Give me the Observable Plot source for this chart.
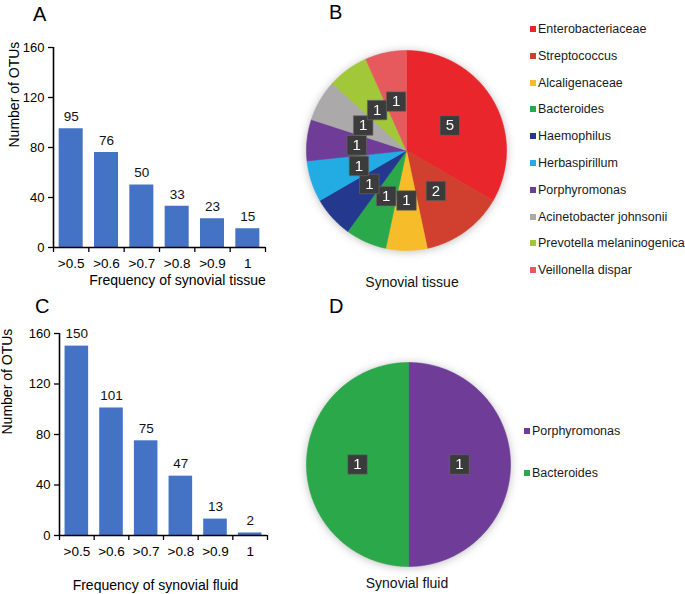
<!DOCTYPE html>
<html><head><meta charset="utf-8">
<script src="https://cdn.jsdelivr.net/npm/d3@7"></script>
<script src="https://cdn.jsdelivr.net/npm/@observablehq/plot@0.6"></script>
<style>
body{margin:0;background:#fff;font-family:"Liberation Sans",Arial,sans-serif;}
#root{position:relative;width:685px;height:594px;overflow:hidden;background:#fff}
.wrap{position:absolute;overflow:visible}
.letter{position:absolute;font-size:20px;line-height:20px;color:#000}
.cap{position:absolute;font-size:14px;line-height:14px;color:#111;transform:translate(-50%,-50%);white-space:nowrap}
.leg{position:absolute;font-size:12.5px;line-height:14px;color:#1a1a1a;white-space:nowrap;transform:translateY(-50%)}
.leg .sw{display:inline-block;width:6px;height:6px;margin-right:2px;vertical-align:1px}
g[aria-label="y-axis tick label"]{font-size:13px !important}
g[aria-label="x-axis tick label"]{font-size:13.5px !important}
</style></head><body><div id="root"></div>
<script>
// ---- data ----
const freqCats = [">0.5", ">0.6", ">0.7", ">0.8", ">0.9", "1"];
const tissueCounts = [95, 76, 50, 33, 23, 15];
const fluidCounts = [150, 101, 75, 47, 13, 2];
const yTicks = [0, 40, 80, 120, 160];
const tissueTaxa = ["Enterobacteriaceae", "Streptococcus", "Alcaligenaceae", "Bacteroides", "Haemophilus", "Herbaspirillum", "Porphyromonas", "Acinetobacter johnsonii", "Prevotella melaninogenica", "Veillonella dispar"];
const tissueOTUs = [5, 2, 1, 1, 1, 1, 1, 1, 1, 1];
const tissueColors = ["#E8262B", "#D1402E", "#F7BC2A", "#2AA84A", "#24398E", "#22ACE3", "#6F3C97", "#ABA9AA", "#A2C83A", "#E65A5E"];
const fluidTaxa = ["Porphyromonas", "Bacteroides"];
const fluidOTUs = [1, 1];
const fluidColors = ["#6F3C97", "#2AA84A"];

const FONT = '"Liberation Sans", Arial, sans-serif';
const root = document.getElementById("root");

function place(el, left, top, w, h) {
  const d = document.createElement("div");
  d.className = "wrap";
  Object.assign(d.style, {left: left + "px", top: top + "px", width: w + "px", height: h + "px"});
  d.appendChild(el);
  root.appendChild(d);
  return d;
}

function barChart(o) {
  const n = freqCats.length;
  const data = freqCats.map((c, i) => ({cat: c, i, v: o.counts[i]}));
  return Plot.plot({
    width: o.width, height: o.height,
    marginLeft: o.ml, marginTop: o.mt, marginBottom: o.mb, marginRight: o.mr,
    style: {fontFamily: FONT, fontSize: "13px", color: "#000", background: "transparent", overflow: "visible"},
    x: {type: "linear", domain: [0, n]},
    y: {domain: [0, 160]},
    marks: [
      Plot.rectY(data, {x1: d => d.i + 0.16, x2: d => d.i + 0.84, y: "v", fill: "#4472C4"}),
      Plot.text(data, {x: d => d.i + 0.5, y: "v", text: d => String(d.v), dy: -12, fontSize: 13.5, fill: "#111"}),
      Plot.axisY({ticks: yTicks, tickSize: 5, tickPadding: 4, fontSize: 13, label: null, stroke: "#000", strokeWidth: 1.3}),
      Plot.axisX({ticks: d3.range(0, n + 1), tickSize: 5, tickFormat: () => "", label: null, strokeWidth: 1.3}),
      Plot.axisX({ticks: d3.range(n).map(i => i + 0.5), tickSize: 0, tickPadding: 11, tickFormat: t => freqCats[Math.floor(t)], label: null, fontSize: 13.5}),
      Plot.ruleY([0], {stroke: "#000", strokeWidth: 1.6}),
      Plot.ruleX([0], {stroke: "#000", strokeWidth: 1.6}),
      Plot.text([o.yLabel], {frameAnchor: "left", text: d => d, rotate: -90, dx: -o.yOff, fontSize: 14}),
      Plot.text([o.xTitle], {frameAnchor: "bottom", text: d => d, dx: o.xDx, dy: o.xDy, fontSize: 14})
    ]
  });
}

function pieChart(o) {
  const arcs = d3.pie().sort(null).value(d => d)(o.values);
  const pts = [];
  arcs.forEach((a, k) => {
    const steps = Math.max(4, Math.ceil((a.endAngle - a.startAngle) / 0.01));
    pts.push({name: o.taxa[k], px: 0, py: 0});
    for (let s = 0; s <= steps; s++) {
      const t = a.startAngle + (a.endAngle - a.startAngle) * s / steps;
      pts.push({name: o.taxa[k], px: Math.sin(t), py: Math.cos(t)});
    }
    pts.push({name: o.taxa[k], px: 0, py: 0});
  });
  const labels = arcs.map((a, k) => {
    const m = (a.startAngle + a.endAngle) / 2;
    return {v: o.values[k], px: 0.5 * Math.sin(m), py: 0.5 * Math.cos(m)};
  });
  return Plot.plot({
    width: o.width, height: o.height, margin: 0,
    style: {fontFamily: FONT, background: "transparent", overflow: "visible"},
    x: {domain: [-1, 1], range: [o.cx - o.r, o.cx + o.r], axis: null},
    y: {domain: [-1, 1], range: [o.cy + o.r, o.cy - o.r], axis: null},
    color: {domain: o.taxa, range: o.colors},
    marks: [
      Plot.line(pts, {x: "px", y: "py", z: "name", fill: "name", stroke: "name", strokeWidth: 0.6, curve: "linear"}),
      Plot.dot(labels, {x: "px", y: "py", symbol: "square", r: 11, fill: "#3b3b3b", stroke: "#6a6a6a", strokeWidth: 0.6}),
      Plot.text(labels, {x: "px", y: "py", text: d => String(d.v), fill: "white", fontSize: 15})
    ]
  });
}

// Panel A
place(barChart({counts: tissueCounts, width: 280, height: 288, ml: 53, mt: 47, mb: 41, mr: 15,
  yLabel: "Number of OTUs", yOff: 39, xTitle: "Frequency of synovial tissue", xDx: 18, xDy: 37}), 0, 0, 280, 288);
// Panel C
place(barChart({counts: fluidCounts, width: 280, height: 294, ml: 59, mt: 33, mb: 59, mr: 13,
  yLabel: "Number of OTUs", yOff: 52, xTitle: "Frequency of synovial fluid", xDx: -8, xDy: 54}), 0, 300, 280, 294);

// Panel B
const pb = place(pieChart({taxa: tissueTaxa, values: tissueOTUs, colors: tissueColors, width: 250, height: 290, cx: 126, cy: 150, r: 100}), 280, 0, 250, 290);
pb.style.filter = "drop-shadow(0px 1px 4px rgba(0,0,0,0.25))";
// Panel D
const pd = place(pieChart({taxa: fluidTaxa, values: fluidOTUs, colors: fluidColors, width: 250, height: 294, cx: 128, cy: 164, r: 102}), 280, 300, 250, 294);
pd.style.filter = "drop-shadow(0px 1px 4px rgba(0,0,0,0.25))";

function addText(cls, txt, left, top) {
  const d = document.createElement("div");
  d.className = cls; d.textContent = txt;
  d.style.left = left + "px"; d.style.top = top + "px";
  root.appendChild(d);
  return d;
}
addText("letter", "A", 33, 4);
addText("letter", "B", 329, 2);
addText("letter", "C", 35, 296);
addText("letter", "D", 329, 296);
addText("cap", "Synovial tissue", 412, 282);
addText("cap", "Synovial fluid", 407, 583);

function legend(taxa, colors, left, top0, step) {
  taxa.forEach((t, k) => {
    const d = document.createElement("div");
    d.className = "leg";
    d.style.left = left + "px"; d.style.top = (top0 + k * step) + "px";
    const sw = document.createElement("span");
    sw.className = "sw"; sw.style.background = colors[k];
    d.appendChild(sw);
    d.appendChild(document.createTextNode(t));
    root.appendChild(d);
  });
}
legend(tissueTaxa, tissueColors, 530, 29, 26.8);
legend(fluidTaxa, fluidColors, 524, 431, 42);
</script></body></html>
